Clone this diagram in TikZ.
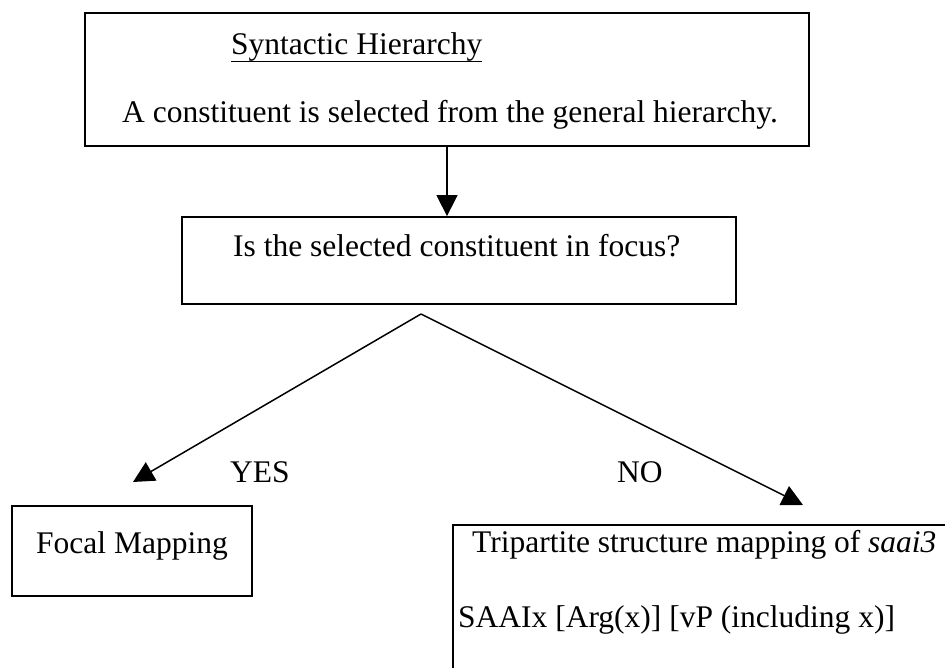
\documentclass[tikz,border=0pt]{standalone}
\usepackage{fontspec}
\setmainfont{Liberation Serif}
\usetikzlibrary{arrows.meta,calc}
\tikzset{
    flow-box/.style={
        draw=black,
        line width=1.8pt,
        inner sep=0pt
    },
    flow-text/.style={
        anchor=base west,
        inner sep=0pt,
        font=\fontsize{31.5}{36}\selectfont
    },
    flow-arrow/.style={
        -{Triangle[length=21pt,width=21pt]},
        line width=1.5pt
    },
}

\begin{document}
\begin{tikzpicture}[x=1pt,y=-1pt]
    \useasboundingbox (0,0) rectangle (945,668);
    \clip (0,0) rectangle (945,668);

    % Syntactic hierarchy
    \node[flow-box,minimum width=724pt,minimum height=133pt] (hier) at (447,79.5) {};
    \node[flow-text] (hier-title) at (231,55) {Syntactic Hierarchy};
    \node[flow-text] (hier-text) at (122,123) {A constituent is selected from the general hierarchy.};
    \draw[line width=1.5pt] ([yshift=-6.5pt]hier-title.base west) -- ([yshift=-6.5pt]hier-title.base east);

    % Focus question
    \node[flow-box,minimum width=554pt,minimum height=87pt] (focus) at (459,260.5) {};
    \node[flow-text] (focus-text) at (233,257) {Is the selected constituent in focus?};
    \draw[flow-arrow] (hier.south) -- (hier.south |- focus.north);

    % Branches
    \coordinate (split) at (421,314);
    \coordinate (yes-tip) at (133,482);
    \coordinate (no-tip) at (803,505);
    \draw[flow-arrow] (split) -- (yes-tip);
    \draw[flow-arrow] (split) -- (no-tip);
    \node[flow-text] (yes) at (230,482) {YES};
    \node[flow-text] (no) at (617,482) {NO};

    % Outcomes
    \node[flow-box,minimum width=240pt,minimum height=90pt] (focal) at (132,551) {};
    \node[flow-text] (focal-text) at (36,553) {Focal Mapping};
    \node[flow-box,anchor=north west,minimum width=520pt,minimum height=170pt] (tripartite) at (452,524) {};
    \node[flow-text] (tri-title) at (472,552) {Tripartite structure mapping of \textit{saai3}};
    \node[flow-text] (tri-text) at (458,627) {SAAIx [Arg(x)] [vP (including x)]};
\end{tikzpicture}
\end{document}
